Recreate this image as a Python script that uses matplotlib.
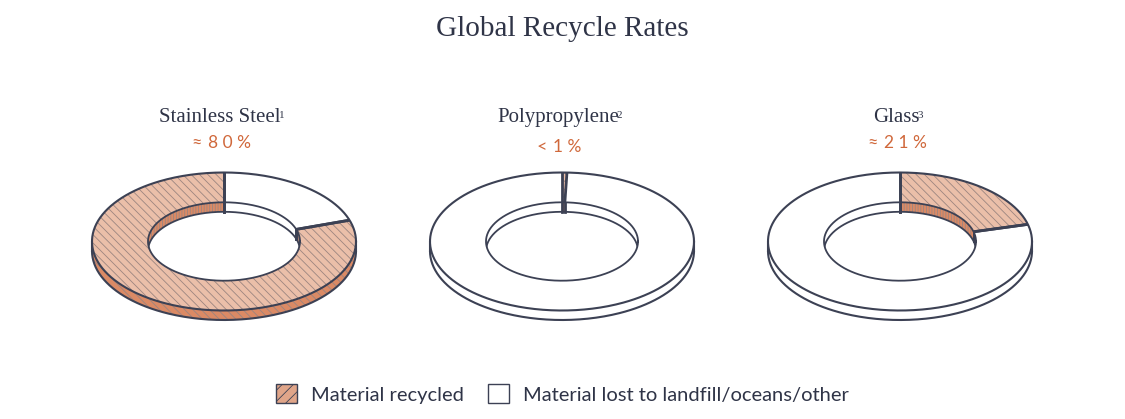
import numpy as np
import matplotlib
matplotlib.use("Agg")
import matplotlib.pyplot as plt
from matplotlib.patches import Polygon, Patch

# ---- data ----
title = "Global Recycle Rates"
materials = ["Stainless Steel", "Polypropylene", "Glass"]
footnotes = ["1", "2", "3"]
rate_labels = [("≈", "8 0 %"), ("<", "1 %"), ("≈", "2 1 %")]
recycled_pct = [80.0, 0.6, 21.0]
lost_pct = [100 - v for v in recycled_pct]
legend_labels = ["Material recycled", "Material lost to landfill/oceans/other"]

# ---- style ----
W, H = 1125, 419
EDGE = "#3c4154"
TEXT = "#2f3447"
ORANGE = "#d0683b"
FACE_REC = "#ebbfa9"
SIDE_REC = "#db8a65"
HATCH_C = "#9c8580"
WHITE = "#ffffff"

plt.rcParams["hatch.linewidth"] = 0.6
SERIF = ["Liberation Serif", "DejaVu Serif"]
SANS = ["Lato", "DejaVu Sans"]

fig = plt.figure(figsize=(W / 100, H / 100), dpi=100)
ax = fig.add_axes([0, 0, 1, 1])
ax.set_xlim(0, W)
ax.set_ylim(H, 0)
ax.axis("off")

centers_x = [224, 562, 900]
rate_baseline = [148, 151.5, 148]
cy = 241.5
RX, RY = 132, 69
IRX, IRY = 76, 39.2
TH = 9.5


def arc(cx, rx, ry, a0, a1, dy=0.0, n=200):
    t = np.radians(np.linspace(a0, a1, n))
    return np.column_stack([cx + rx * np.cos(t), cy - ry * np.sin(t) + dy])


def clip(lo, hi, intervals):
    out = []
    for a, b in intervals:
        l, h = max(lo, a), min(hi, b)
        if h > l:
            out.append((l, h))
    return out


FRONT = [(-180, 0)]
BACK = [(0, 90), (-270, -180)]

z = [1.0]


def nz():
    z[0] += 0.01
    return z[0]


for i, cx in enumerate(centers_x):
    vals = [recycled_pct[i], lost_pct[i]]
    kinds = ["rec", "lost"]
    order = np.argsort(vals)  # smaller slice first, clockwise from 12 o'clock
    slices = []
    cum = 0.0
    for k in order:
        a0 = 90 - 360 * cum / 100
        cum += vals[k]
        a1 = 90 - 360 * cum / 100
        slices.append((kinds[k], a1, a0, vals[k]))  # lo, hi

    # --- outer wall (front) ---
    for kind, lo, hi, v in slices:
        for l, h in clip(lo, hi, FRONT):
            top = arc(cx, RX, RY, l, h)
            bot = arc(cx, RX, RY, h, l, dy=TH)
            poly = np.vstack([top, bot])
            if kind == "rec":
                ax.add_patch(Polygon(poly, closed=True, facecolor=SIDE_REC,
                                     edgecolor=HATCH_C, lw=0,
                                     hatch="\\\\\\\\", zorder=nz()))
            else:
                ax.add_patch(Polygon(poly, closed=True, facecolor=WHITE, lw=0,
                                     zorder=nz()))
    ax.plot(*arc(cx, RX, RY, -180, 0, dy=TH).T, color=EDGE, lw=1.5,
            solid_capstyle="round", zorder=nz())
    for sx in (-1, 1):
        ax.plot([cx + sx * RX, cx + sx * RX], [cy, cy + TH], color=EDGE,
                lw=1.5, zorder=nz())

    # --- inner wall (back) ---
    for kind, lo, hi, v in slices:
        for l, h in clip(lo, hi, BACK):
            top = arc(cx, IRX, IRY, l, h)
            bot = arc(cx, IRX, IRY, h, l, dy=TH)
            poly = np.vstack([top, bot])
            if kind == "rec":
                ax.add_patch(Polygon(poly, closed=True, facecolor=SIDE_REC,
                                     edgecolor=HATCH_C, lw=0, hatch="||||||",
                                     zorder=nz()))
            else:
                ax.add_patch(Polygon(poly, closed=True, facecolor=WHITE, lw=0,
                                     zorder=nz()))
    ax.plot(*arc(cx, IRX, IRY, 0, 180, dy=TH).T, color=EDGE, lw=1.3,
            zorder=nz())

    # boundaries on walls
    for kind, lo, hi, v in slices:
        bw = 2.0 if v >= 2 else 0.6
        for a in (lo, hi):
            t = np.radians(a)
            if np.sin(t) > 0.01:
                x = cx + IRX * np.cos(t)
                y = cy - IRY * np.sin(t)
                ax.plot([x, x], [y, y + TH], color=EDGE, lw=bw, zorder=nz())

    # --- top face ---
    for kind, lo, hi, v in slices:
        outer = arc(cx, RX, RY, lo, hi)
        inner = arc(cx, IRX, IRY, hi, lo)
        poly = np.vstack([outer, inner])
        if kind == "rec":
            ax.add_patch(Polygon(poly, closed=True, facecolor=FACE_REC,
                                 edgecolor=HATCH_C, lw=0, hatch="\\\\\\\\",
                                 zorder=nz()))
        else:
            ax.add_patch(Polygon(poly, closed=True, facecolor=WHITE, lw=0,
                                 zorder=nz()))
    ax.plot(*arc(cx, RX, RY, 0, 360, n=400).T, color=EDGE, lw=1.5, zorder=nz())
    ax.plot(*arc(cx, IRX, IRY, 0, 360, n=400).T, color=EDGE, lw=1.3,
            zorder=nz())
    for kind, lo, hi, v in slices:
        bw = 2.0 if v >= 2 else 0.6
        for a in (lo, hi):
            t = np.radians(a)
            xs = [cx + IRX * np.cos(t), cx + RX * np.cos(t)]
            ys = [cy - IRY * np.sin(t), cy - RY * np.sin(t)]
            ax.plot(xs, ys, color=EDGE, lw=bw, solid_capstyle="butt",
                    zorder=nz())

    # --- labels ---
    t = ax.text(cx - 4, 122, materials[i], ha="center", va="baseline",
                fontsize=15, family=SERIF, color=TEXT, zorder=10)
    ax.annotate(footnotes[i], xy=(1.0, 0.62), xycoords=t, xytext=(-1.5, 0),
                textcoords="offset points", ha="left", va="center",
                fontsize=8, family=SERIF, color=TEXT, zorder=10)
    p = ax.text(cx + 5, rate_baseline[i], rate_labels[i][1], ha="center",
                va="baseline", fontsize=12.5, family=SANS, color=ORANGE,
                zorder=10)
    ax.annotate(rate_labels[i][0], xy=(0.0, 0.45), xycoords=p,
                xytext=(-4, 0), textcoords="offset points", ha="right",
                va="center", fontsize=13, family=SANS, color=ORANGE,
                zorder=10)

ax.text(W / 2, 36, title, ha="center", va="baseline", fontsize=21,
        family=SERIF, color=TEXT, zorder=10)

handles = [
    Patch(facecolor="#e0a589", edgecolor=EDGE, hatch="///", lw=1.0),
    Patch(facecolor=WHITE, edgecolor=EDGE, lw=1.0),
]
fig.legend(handles, legend_labels, loc="center", ncol=2,
           bbox_to_anchor=(0.5, 1 - 394 / H), frameon=False,
           prop={"family": SANS, "size": 14.5}, handlelength=1.05,
           handleheight=1.05, handletextpad=0.7, columnspacing=1.2,
           labelcolor=TEXT)

fig.savefig("out.png", dpi=100)
